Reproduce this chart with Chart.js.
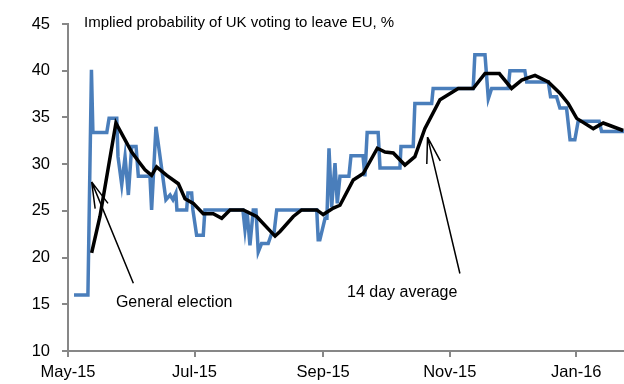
<!DOCTYPE html>
<html>
<head>
<meta charset="utf-8">
<script src="https://cdn.jsdelivr.net/npm/chart.js@4.4.1/dist/chart.umd.min.js"></script>
<style>
  html, body { margin: 0; padding: 0; background: #fff; }
  #wrap { width: 624px; height: 384px; }
</style>
</head>
<body>
<div id="wrap"><canvas id="chart" width="624" height="384"></canvas></div>
<script>
// days counted from 1 May 2015
const tickDays = [0, 61, 123, 184, 245];
const tickLabels = ['May-15', 'Jul-15', 'Sep-15', 'Nov-15', 'Jan-16'];

// implied probability (daily, blue)
const dailyDays = [2.9, 9.6, 11.3, 12.0, 18.7, 19.8, 23.5, 24.1, 25.9, 27.5, 29.1, 30.7, 32.8, 33.9,
  39.5, 40.3, 42.4, 47.2, 49.2, 50.6, 52.0, 52.5, 57.2, 57.8, 59.6, 60.2, 62.0, 65.2, 66.0,
  84.3, 85.3, 86.3, 87.7, 89.3, 90.6, 91.7, 93.3, 96.5, 98.2, 99.3, 100.6,
  119.9, 120.6, 121.4, 123.9, 124.8, 125.8, 127.1, 128.7, 129.8, 131.1, 135.4, 136.4,
  142.2, 143.1, 144.2, 149.5, 150.4, 160.0, 160.5, 166.4, 167.2, 175.3, 176.0,
  195.3, 196.1, 201.0, 202.6, 204.2, 212.2, 213.0, 220.2, 221.1, 231.5, 232.6,
  235.5, 237.1, 240.3, 242.0, 244.3, 245.9, 256.0, 257.2, 268];
const dailyValues = [16, 16, 40.1, 33.4, 33.4, 34.9, 34.9, 30.8, 27.8, 30.8, 26.7, 31.9, 31.9, 28.7,
  28.7, 25.1, 34.0, 26.2, 26.7, 26.2, 26.9, 25.1, 25.1, 26.9, 26.9, 25.1, 22.4, 22.4, 25.1,
  25.1, 23.0, 25.0, 21.3, 25.1, 25.1, 20.6, 21.5, 21.5, 22.6, 22.6, 25.1,
  25.1, 21.9, 21.9, 24.2, 24.2, 31.7, 25.4, 30.1, 25.8, 28.7, 28.7, 30.9,
  30.9, 28.7, 33.4, 33.4, 29.6, 29.6, 31.9, 31.9, 36.5, 36.5, 38.1,
  38.1, 41.7, 41.7, 37.0, 38.1, 38.1, 40.0, 40.0, 38.8, 38.8, 37.2,
  37.2, 36.0, 36.0, 32.6, 32.6, 34.6, 34.6, 33.5, 33.5];

// 14 day average (black)
const avgDays = [11.4, 15.4, 23.1, 27.5, 30.7, 34.7, 37.1, 40.3, 42.7, 47.6, 53.2, 56.4, 60.4,
  65.2, 70.0, 74.1, 78.1, 84.5, 90.9, 99.8, 102.2, 108.6, 112.6, 119.9, 123.0, 127.9, 131.1,
  137.5, 142.3, 149.1, 152.8, 156.8, 162.4, 167.2, 172.0, 179.3, 188.1, 195.3, 201.0, 207.9,
  213.8, 218.7, 225.1, 231.5, 237.1, 241.1, 245.2, 253.2, 258.0, 267.6];
const avgValues = [20.5, 24.4, 34.4, 32.6, 31.3, 30.1, 29.4, 28.8, 29.7, 28.8, 27.9, 26.3, 25.8,
  24.7, 24.7, 24.2, 25.1, 25.1, 24.4, 22.3, 22.8, 24.4, 25.1, 25.1, 24.6, 25.3, 25.6,
  28.3, 29.0, 31.7, 31.3, 31.2, 29.9, 30.8, 33.8, 36.9, 38.1, 38.1, 39.7, 39.7,
  38.1, 39.0, 39.5, 38.8, 37.6, 36.5, 34.9, 33.8, 34.4, 33.6];

// annotations: label, text anchor [day, value], arrow tail, arrow tip
const notes = [
  { text: 'General election', at: [23.1, 14.75], tail: [31.5, 17.25], tip: [11.4, 28.1] },
  { text: '14 day average', at: [134.5, 15.8], tail: [188.9, 18.3], tip: [173.3, 32.9] }
];

const FONT = '"Liberation Sans", Arial, sans-serif';
const AXIS = '#878787';

const toPts = (xs, ys) => xs.map((x, i) => ({ x: x, y: ys[i] }));

const extras = {
  id: 'extras',
  afterDatasetsDraw(chart) {
    const { ctx, chartArea } = chart;
    const sx = chart.scales.x, sy = chart.scales.y;
    ctx.save();
    // title
    ctx.fillStyle = '#000';
    ctx.font = '15px ' + FONT;
    ctx.textBaseline = 'alphabetic';
    ctx.textAlign = 'left';
    ctx.fillText('Implied probability of UK voting to leave EU, %', chartArea.left + 16, chartArea.top + 3);

    notes.forEach(n => {
      const tx = sx.getPixelForValue(n.tip[0]), ty = sy.getPixelForValue(n.tip[1]);
      const bx = sx.getPixelForValue(n.tail[0]), by = sy.getPixelForValue(n.tail[1]);
      ctx.strokeStyle = '#000';
      ctx.lineWidth = 1.5;
      ctx.beginPath();
      ctx.moveTo(bx, by);
      ctx.lineTo(tx, ty);
      const ang = Math.atan2(by - ty, bx - tx);
      [-0.26, 0.26].forEach(a => {
        ctx.moveTo(tx, ty);
        ctx.lineTo(tx + 27 * Math.cos(ang + a), ty + 27 * Math.sin(ang + a));
      });
      ctx.stroke();
      ctx.font = '16px ' + FONT;
      ctx.fillText(n.text, sx.getPixelForValue(n.at[0]), sy.getPixelForValue(n.at[1]));
    });
    ctx.restore();
  }
};

new Chart(document.getElementById('chart'), {
  type: 'line',
  data: {
    datasets: [
      {
        label: '14 day average',
        data: toPts(avgDays, avgValues),
        borderColor: '#000',
        borderWidth: 3.5,
        pointRadius: 0,
        tension: 0,
        order: 0
      },
      {
        label: 'Implied probability',
        data: toPts(dailyDays, dailyValues),
        borderColor: '#4a7ebb',
        borderWidth: 3.5,
        pointRadius: 0,
        tension: 0,
        order: 1
      }
    ]
  },
  options: {
    responsive: false,
    animation: false,
    devicePixelRatio: 1,
    layout: { padding: { left: 0, right: 0, top: 24, bottom: 0 } },
    plugins: { legend: { display: false }, tooltip: { enabled: false } },
    scales: {
      x: {
        type: 'linear',
        min: 0,
        max: 268,
        afterFit: s => { s.height = 33; },
        afterBuildTicks: s => { s.ticks = tickDays.map(v => ({ value: v })); },
        ticks: {
          color: '#000',
          font: { family: FONT, size: 16.5 },
          padding: 6,
          maxRotation: 0,
          callback: v => tickLabels[tickDays.indexOf(v)] || ''
        },
        grid: { drawOnChartArea: false, drawTicks: true, tickLength: 6, color: AXIS, lineWidth: 2 },
        border: { color: AXIS, width: 2 }
      },
      y: {
        min: 10,
        max: 45,
        afterFit: s => { s.width = 68; },
        ticks: {
          stepSize: 5,
          color: '#000',
          font: { family: FONT, size: 16.5 },
          padding: 12
        },
        grid: { drawOnChartArea: false, drawTicks: true, tickLength: 6, color: AXIS, lineWidth: 2 },
        border: { color: AXIS, width: 2 }
      }
    }
  },
  plugins: [extras]
});
</script>
</body>
</html>
